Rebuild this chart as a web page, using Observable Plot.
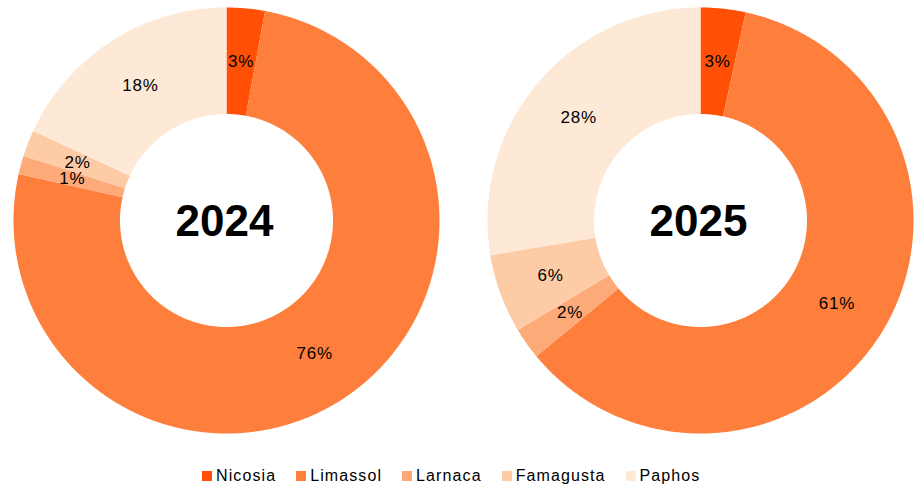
<!DOCTYPE html>
<html>
<head>
<meta charset="utf-8">
<script src="https://cdn.jsdelivr.net/npm/d3@7"></script>
<script src="https://cdn.jsdelivr.net/npm/@observablehq/plot@0.6"></script>
<style>
  html, body { margin: 0; padding: 0; background: #fff; }
  #wrap { position: relative; width: 917px; height: 487px; overflow: hidden; font-family: "Liberation Sans", Arial, sans-serif; }
  .donut { position: absolute; top: 7px; }
  .donut svg .pct text { letter-spacing: 0.8px; }
  #legend { position: absolute; left: 202px; top: 466px; display: flex; gap: 20px; font-size: 16px; letter-spacing: 1.1px; color: #000; line-height: 20px; white-space: nowrap; }
  #legend .sw { display: inline-block; width: 10px; height: 10px; margin-right: 4px; vertical-align: baseline; }
</style>
</head>
<body>
<div id="wrap">
  <div id="d2024" class="donut" style="left:13px"></div>
  <div id="d2025" class="donut" style="left:487px"></div>
  <div id="legend"></div>
</div>
<script>
const cities = ["Nicosia", "Limassol", "Larnaca", "Famagusta", "Paphos"];
const colors = ["#FF5005", "#FE7F3C", "#FDAA78", "#FDCBA6", "#FEE8D6"];
const years = ["2024", "2025"];
const values2024 = [2.9, 75.6, 1.4, 2.0, 18.1];
const values2025 = [3.4, 60.6, 2.4, 6.0, 27.6];
const pctLabels2024 = ["3%", "76%", "1%", "2%", "18%"];
const pctLabels2025 = ["3%", "61%", "2%", "6%", "28%"];

const innerR = 0.5, outerR = 1, labelR = 0.75;

function donut(year, values, labels) {
  const total = d3.sum(values);
  const pts = [];
  const lbl = [];
  let acc = 0;
  values.forEach((v, i) => {
    const a0 = acc / total * 2 * Math.PI;
    acc += v;
    const a1 = acc / total * 2 * Math.PI;
    const n = Math.max(2, Math.ceil((a1 - a0) / (Math.PI / 360)));
    for (let k = 0; k <= n; k++) {
      const a = a0 + (a1 - a0) * k / n;
      pts.push({city: cities[i], x: outerR * Math.sin(a), y: outerR * Math.cos(a)});
    }
    for (let k = n; k >= 0; k--) {
      const a = a0 + (a1 - a0) * k / n;
      pts.push({city: cities[i], x: innerR * Math.sin(a), y: innerR * Math.cos(a)});
    }
    const am = (a0 + a1) / 2;
    lbl.push({text: labels[i], x: labelR * Math.sin(am), y: labelR * Math.cos(am)});
  });
  const size = 426;
  return Plot.plot({
    width: size, height: size,
    margin: 0, inset: 0,
    x: {domain: [-1, 1], axis: null},
    y: {domain: [-1, 1], axis: null},
    color: {domain: cities, range: colors},
    style: {fontFamily: '"Liberation Sans", Arial, sans-serif', overflow: "visible", background: "transparent"},
    marks: [
      Plot.line(pts, {x: "x", y: "y", z: "city", fill: "city", stroke: "none", curve: "linear"}),
      Plot.text(lbl, {x: "x", y: "y", text: "text", fontSize: 17, fill: "#000", className: "pct"}),
      Plot.text([year], {x: () => 0, y: () => 0, text: d => d, fontSize: 44, fontWeight: "bold", fill: "#000", dx: -2, dy: 1})
    ]
  });
}

document.getElementById("d2024").appendChild(donut(years[0], values2024, pctLabels2024));
document.getElementById("d2025").appendChild(donut(years[1], values2025, pctLabels2025));

const legend = d3.select("#legend");
cities.forEach((c, i) => {
  const item = legend.append("span");
  item.append("span").attr("class", "sw").style("background", colors[i]);
  item.append("span").text(c);
});
</script>
</body>
</html>
